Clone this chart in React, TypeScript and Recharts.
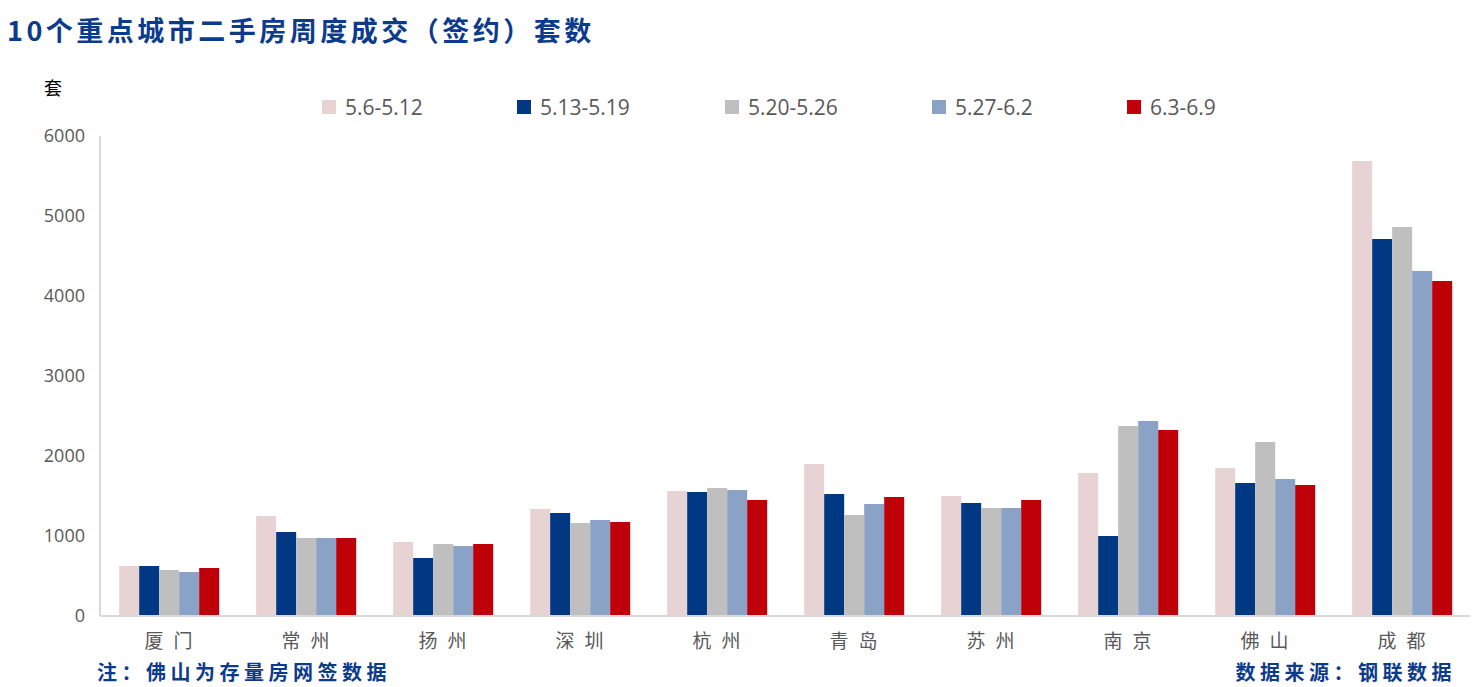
import { BarChart, Bar, XAxis, YAxis } from 'recharts'

const cities = ['厦门', '常州', '扬州', '深圳', '杭州', '青岛', '苏州', '南京', '佛山', '成都']

const week1 = [625, 1250, 925, 1337, 1562, 1900, 1500, 1787, 1850, 5687]
const week2 = [625, 1050, 725, 1287, 1550, 1525, 1412, 1000, 1662, 4712]
const week3 = [575, 975, 900, 1162, 1600, 1262, 1350, 2375, 2175, 4862]
const week4 = [550, 975, 875, 1200, 1575, 1400, 1350, 2437, 1712, 4312]
const week5 = [600, 975, 900, 1175, 1450, 1487, 1450, 2325, 1637, 4187]

const yTicks = [0, 1000, 2000, 3000, 4000, 5000, 6000]

const series = [
  { key: '5.6-5.12', color: '#E7D3D3', values: week1 },
  { key: '5.13-5.19', color: '#003883', values: week2 },
  { key: '5.20-5.26', color: '#BFBFBF', values: week3 },
  { key: '5.27-6.2', color: '#8AA2C6', values: week4 },
  { key: '6.3-6.9', color: '#C00008', values: week5 },
]

const legendX = [322, 517, 725, 932, 1127]

const data = cities.map((city, i) => {
  const row: Record<string, string | number> = { city }
  series.forEach((s) => {
    row[s.key] = s.values[i]
  })
  return row
})

const cjk = '"Noto Sans CJK SC", "Noto Sans", sans-serif'
const latin = '"Open Sans", "Noto Sans", sans-serif'

const CityTick = (props: any) => {
  const { x, y, payload } = props
  return (
    <text
      x={x + 5}
      y={y}
      dy={24}
      textAnchor='middle'
      fill='#595959'
      fontSize={19}
      fontFamily={cjk}
      style={{ letterSpacing: 10 }}
    >
      {payload.value}
    </text>
  )
}

const noteStyle = {
  position: 'absolute' as const,
  top: 661,
  fontFamily: cjk,
  fontWeight: 700,
  fontSize: 20,
  lineHeight: '22px',
  letterSpacing: 4.5,
  color: '#0D3B8C',
  whiteSpace: 'nowrap' as const,
}

export default function App() {
  return (
    <div
      style={{
        position: 'absolute',
        left: 0,
        top: 0,
        width: 1476,
        height: 687,
        background: '#fff',
        overflow: 'hidden',
      }}
    >
      {/* title */}
      <div
        style={{
          position: 'absolute',
          left: 7,
          top: 12,
          fontFamily: cjk,
          fontWeight: 700,
          fontSize: 27,
          lineHeight: '36px',
          letterSpacing: 3.5,
          color: '#0D3B8C',
          whiteSpace: 'nowrap',
        }}
      >
        10个重点城市二手房周度成交（签约）套数
      </div>

      {/* unit */}
      <div
        style={{
          position: 'absolute',
          left: 44,
          top: 74,
          fontFamily: cjk,
          fontSize: 18,
          color: '#000',
        }}
      >
        套
      </div>

      {/* legend */}
      {series.map((s, i) => (
        <div
          key={s.key}
          style={{
            position: 'absolute',
            left: legendX[i],
            top: 93,
            display: 'flex',
            alignItems: 'center',
            fontFamily: latin,
            fontSize: 21,
            color: '#595959',
            whiteSpace: 'nowrap',
          }}
        >
          <span
            style={{
              display: 'inline-block',
              width: 14,
              height: 14,
              background: s.color,
              marginRight: 9,
            }}
          />
          {s.key}
        </div>
      ))}

      <div style={{ position: 'absolute', left: 0, top: 0 }}>
        <BarChart
          width={1476}
          height={687}
          data={data}
          margin={{ top: 136, right: 6, left: 30, bottom: 41 }}
          barCategoryGap='14%'
          barGap={0}
        >
          <XAxis
            dataKey='city'
            height={30}
            tickLine={false}
            axisLine={{ stroke: '#D9D9D9', strokeWidth: 2 }}
            tick={<CityTick />}
            interval={0}
          />
          <YAxis
            width={70}
            domain={[0, 6000]}
            ticks={yTicks}
            tickLine={false}
            tickSize={0}
            tickMargin={15}
            axisLine={{ stroke: '#D9D9D9', strokeWidth: 2 }}
            tick={{ fill: '#595959', fontSize: 18, fontFamily: latin }}
          />
          {series.map((s) => (
            <Bar
              key={s.key}
              dataKey={s.key}
              fill={s.color}
              isAnimationActive={false}
            />
          ))}
        </BarChart>
      </div>

      {/* footer notes */}
      <div style={{ ...noteStyle, left: 97 }}>注：佛山为存量房网签数据</div>
      <div style={{ ...noteStyle, right: 20 }}>数据来源：钢联数据</div>
    </div>
  )
}
